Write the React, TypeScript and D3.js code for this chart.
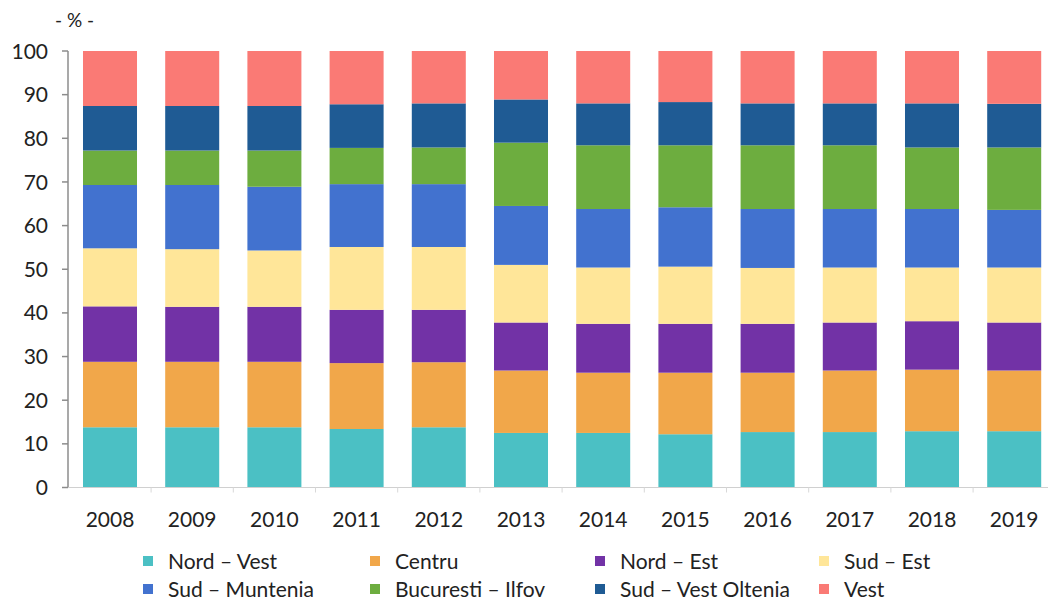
import React from "react";
import * as d3 from "d3";

const years = ["2008","2009","2010","2011","2012","2013","2014","2015","2016","2017","2018","2019"];
const seriesNames = ["Nord – Vest","Centru","Nord – Est","Sud – Est","Sud – Muntenia","Bucuresti – Ilfov","Sud – Vest Oltenia","Vest"];
const nordVest = [13.8,13.8,13.8,13.4,13.8,12.5,12.5,12.2,12.7,12.7,12.9,12.9];
const centru = [15.0,15.0,15.0,15.1,14.9,14.3,13.8,14.1,13.6,14.1,14.1,13.9];
const nordEst = [12.7,12.6,12.6,12.2,12.0,11.0,11.2,11.2,11.2,11.0,11.1,11.0];
const sudEst = [13.3,13.2,12.9,14.4,14.4,13.2,12.9,13.1,12.8,12.6,12.3,12.6];
const sudMuntenia = [14.5,14.7,14.6,14.4,14.4,13.5,13.4,13.6,13.5,13.4,13.4,13.2];
const bucurestiIlfov = [7.9,7.9,8.3,8.3,8.4,14.5,14.6,14.2,14.6,14.6,14.1,14.3];
const sudVestOltenia = [10.2,10.2,10.2,10.0,10.1,9.9,9.6,9.9,9.6,9.6,10.1,10.0];
const vest = [12.6,12.6,12.6,12.2,12.0,11.1,12.0,11.7,12.0,12.0,12.0,12.1];
const yTicks = [0,10,20,30,40,50,60,70,80,90,100];
const colors = ["#4BC0C4","#F1A74A","#7232A6","#FFE699","#4272CF","#6DAD3F","#1F5B94","#FA7A75"];

const allSeries = [nordVest,centru,nordEst,sudEst,sudMuntenia,bucurestiIlfov,sudVestOltenia,vest];

export default function App() {
  const W = 1048, H = 602;
  const font = "Lato, 'Open Sans', sans-serif";
  const x = d3.scaleBand<string>().domain(years).range([68.9, 1055.3]).paddingInner(0.343).paddingOuter(0.1715);
  const y = d3.scaleLinear().domain([0, 100]).range([487.5, 51]);

  const rows = years.map((yr, i) => {
    const r: any = { year: yr };
    seriesNames.forEach((s, j) => (r[s] = allSeries[j][i]));
    return r;
  });
  const stacked = d3.stack<any>().keys(seriesNames)(rows);

  const legendCols = [148, 375, 600, 824];
  const legendRows = [561, 589];

  return (
    <svg width={W} height={H} style={{ position: "absolute", left: 0, top: 0, background: "#fff" }} fontFamily={font}>
      <text x={55} y={27} fontSize={19} fill="#222">- % -</text>
      {stacked.map((layer, j) => (
        <g key={j} fill={colors[j]}>
          {layer.map((d, i) => (
            <rect key={i} x={x(years[i])} width={x.bandwidth()} y={y(d[1])} height={y(d[0]) - y(d[1])} />
          ))}
        </g>
      ))}
      {/* y axis */}
      <line x1={68} x2={68} y1={y(100)} y2={y(0)} stroke="#8c8c8c" strokeWidth={1.5} />
      {yTicks.map((t) => (
        <g key={t}>
          <line x1={62} x2={68} y1={y(t)} y2={y(t)} stroke="#8c8c8c" strokeWidth={1.5} />
          <text x={48} y={y(t)} dy="0.36em" textAnchor="end" fontSize={21} fill="#222">{t}</text>
        </g>
      ))}
      {/* x axis */}
      <line x1={68} x2={1048} y1={y(0)} y2={y(0)} stroke="#d0d0d0" strokeWidth={1} />
      {years.map((yr, i) => {
        const bx = (x(yr) as number) - (x.step() - x.bandwidth()) / 2;
        return i > 0 ? <line key={"t" + yr} x1={bx} x2={bx} y1={y(0)} y2={y(0) + 5} stroke="#d8d8d8" /> : null;
      })}
      {years.map((yr) => (
        <text key={yr} x={(x(yr) as number) + x.bandwidth() / 2} y={527} textAnchor="middle" fontSize={21} fill="#222">{yr}</text>
      ))}
      {/* legend */}
      {seriesNames.map((s, j) => {
        const cx = legendCols[j % 4];
        const cy = legendRows[Math.floor(j / 4)];
        return (
          <g key={s}>
            <rect x={cx - 5} y={cy - 5} width={10} height={10} fill={colors[j]} />
            <text x={cx + 20} y={cy} dy="0.36em" fontSize={21} fill="#222">{s}</text>
          </g>
        );
      })}
    </svg>
  );
}
